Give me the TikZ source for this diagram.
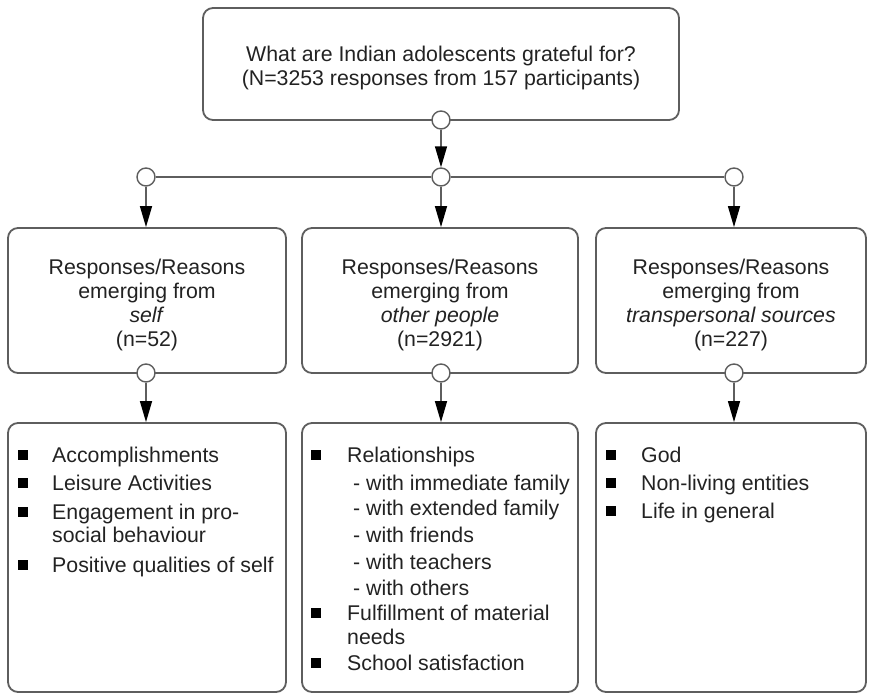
\documentclass[tikz,border=0pt]{standalone}
\usepackage{fontspec}
\setmainfont{Liberation Sans}
\usetikzlibrary{arrows.meta}
\definecolor{linegray}{HTML}{5E5E5E}
\definecolor{txt}{HTML}{222222}
\begin{document}
\begin{tikzpicture}[x=1pt,y=-1pt,
 box/.style={draw=linegray, line width=1.8pt, rounded corners=10pt, inner sep=0pt},
 boxtext/.style={align=center, inner sep=0pt, font=\fontsize{21.3}{24}\selectfont, text=txt},
 knob/.style={circle, draw=linegray, fill=white, line width=1.4pt, minimum size=18pt, inner sep=0pt},
 conn/.style={draw=linegray, line width=1.4pt},
 arr/.style={conn, -{Triangle[length=21pt,width=12pt,color=black]}},
 item/.style={anchor=base west, inner sep=0pt, font=\fontsize{21.3}{24}\selectfont, text=txt},
 bul/.style={fill=black, minimum size=10pt, inner sep=0pt}
]
\useasboundingbox (0,0) rectangle (870,694);

% top box
\node[box, minimum width=476pt, minimum height=112pt] (top) at (441,64) {};
\node[boxtext, font=\fontsize{21.3}{23.5}\selectfont] (toptext) at (441,68)
 {What are Indian adolescents grateful for?\\(N=3253 responses from 157 participants)};

% middle boxes
\node[box, minimum width=278pt, minimum height=145pt] (A) at (147,300.5) {};
\node[boxtext] (At) at (147,304.5) {Responses/Reasons\\emerging from\\\textit{self}\\(n=52)};
\node[box, minimum width=276pt, minimum height=145pt] (B) at (440,300.5) {};
\node[boxtext] (Bt) at (440,304.5) {Responses/Reasons\\emerging from\\\textit{other people}\\(n=2921)};
\node[box, minimum width=270pt, minimum height=145pt] (C) at (731,300.5) {};
\node[boxtext] (Ct) at (731,304.5) {Responses/Reasons\\emerging from\\\textit{transpersonal sources}\\(n=227)};

% bottom boxes
\node[box, minimum width=278pt, minimum height=269pt] (A2) at (147,557.5) {};
\node[box, minimum width=276pt, minimum height=269pt] (B2) at (440,557.5) {};
\node[box, minimum width=270pt, minimum height=269pt] (C2) at (731,557.5) {};

% knobs
\node[knob] (c0) at (441,120) {};
\node[knob] (c1) at (441,177) {};
\node[knob] (cL) at (146,177) {};
\node[knob] (cR) at (734,177) {};
\node[knob] (dA) at (146,373) {};
\node[knob] (dB) at (441,373) {};
\node[knob] (dC) at (734,373) {};

% connectors
\draw[arr] (c0) -- (c1);
\draw[conn] (cL) -- (c1);
\draw[conn] (c1) -- (cR);
\draw[arr] (cL) -- (cL |- A.north);
\draw[arr] (c1) -- (c1 |- B.north);
\draw[arr] (cR) -- (cR |- C.north);
\draw[arr] (dA) -- (dA |- A2.north);
\draw[arr] (dB) -- (dB |- B2.north);
\draw[arr] (dC) -- (dC |- C2.north);

% left list
\node[bul] (a1b) at (23,455) {};
\node[item] (a1) at (52,462) {Accomplishments};
\node[bul] (a2b) at (23,483) {};
\node[item] (a2) at (52,490) {Leisure Activities};
\node[bul] (a3b) at (23,512) {};
\node[item] (a3) at (52,519) {Engagement in pro-};
\node[item] (a3c) at (52,542) {social behaviour};
\node[bul] (a4b) at (23,565) {};
\node[item] (a4) at (52,572) {Positive qualities of self};

% middle list
\node[bul] (b1b) at (316,455) {};
\node[item] (b1) at (347,462) {Relationships};
\node[item] (b1a) at (353,490) {- with immediate family};
\node[item] (b1c) at (353,515) {- with extended family};
\node[item] (b1d) at (353,542) {- with friends};
\node[item] (b1e) at (353,569) {- with teachers};
\node[item] (b1f) at (353,595) {- with others};
\node[bul] (b2b) at (316,613) {};
\node[item] (b2) at (347,620) {Fulfillment of material};
\node[item] (b2c) at (347,644) {needs};
\node[bul] (b3b) at (316,663) {};
\node[item] (b3) at (347,670) {School satisfaction};

% right list
\node[bul] (r1b) at (611,455) {};
\node[item] (r1) at (641,462) {God};
\node[bul] (r2b) at (611,483) {};
\node[item] (r2) at (641,490) {Non-living entities};
\node[bul] (r3b) at (611,511) {};
\node[item] (r3) at (641,518) {Life in general};
\end{tikzpicture}
\end{document}
